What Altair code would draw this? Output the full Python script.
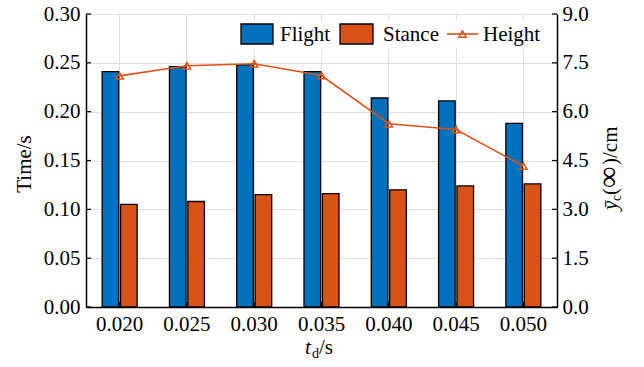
import altair as alt
import pandas as pd

td = ["0.020", "0.025", "0.030", "0.035", "0.040", "0.045", "0.050"]
flight = [0.241, 0.246, 0.248, 0.241, 0.214, 0.211, 0.188]
stance = [0.105, 0.108, 0.115, 0.116, 0.120, 0.124, 0.126]
height = [7.10, 7.41, 7.47, 7.11, 5.63, 5.45, 4.33]
series = ["Flight", "Stance"]
left_ticks = [0.0, 0.05, 0.10, 0.15, 0.20, 0.25, 0.30]
right_ticks = [0.0, 1.5, 3.0, 4.5, 6.0, 7.5, 9.0]
legend_labels = ["Flight", "Stance", "Height"]

BLUE = "#0072BD"
ORANGE = "#D95319"
GRID = "#dedede"
FONT = "Liberation Serif"
W, H = 471, 293
FS = 21

bars_df = pd.DataFrame(
    {"td": td * 2,
     "series": [series[0]] * len(td) + [series[1]] * len(td),
     "value": flight + stance}
)
line_df = pd.DataFrame({"td": td, "height": height})
lt_df = pd.DataFrame({"v": left_ticks})
rt_df = pd.DataFrame({"v": right_ticks})
td_df = pd.DataFrame({"td": td})
one = pd.DataFrame({"a": [0]})

xscale = alt.Scale(domain=td, paddingInner=0.48, paddingOuter=0.24)
xaxis = alt.Axis(title=None, labelAngle=0, labelFont=FONT, labelFontSize=FS,
                 labelColor="black", labelPadding=6, ticks=False,
                 domainColor="black", domainWidth=1.5, grid=True,
                 gridColor=GRID, gridWidth=1)
yl_scale = alt.Scale(domain=[0, 0.3], nice=False)
yl_axis = alt.Axis(title=None, orient="left", values=left_ticks, format=".2f",
                   labelFont=FONT, labelFontSize=FS, labelColor="black",
                   labelPadding=6, ticks=False, domainColor="black",
                   domainWidth=1.5, grid=True, gridColor=GRID, gridWidth=1)
yr_scale = alt.Scale(domain=[0, 9], nice=False)
yr_axis = alt.Axis(title=None, orient="right", values=right_ticks, format=".1f",
                   labelFont=FONT, labelFontSize=FS, labelColor="black",
                   labelPadding=5, ticks=False, domainColor="black",
                   domainWidth=1.5, grid=False)

bars = alt.Chart(bars_df).mark_bar(stroke="black", strokeWidth=1.3).encode(
    x=alt.X("td:N", scale=xscale, axis=xaxis),
    xOffset=alt.XOffset("series:N", sort=series,
                        scale=alt.Scale(paddingInner=0.1)),
    y=alt.Y("value:Q", scale=yl_scale, axis=yl_axis),
    color=alt.Color("series:N", scale=alt.Scale(domain=series, range=[BLUE, ORANGE]),
                    legend=None),
)
lticks = alt.Chart(lt_df).mark_rule(color="black", strokeWidth=1.2).encode(
    y=alt.Y("v:Q", scale=yl_scale, axis=yl_axis),
    x=alt.value(0), x2=alt.value(5),
)
bticks = alt.Chart(td_df).mark_rule(color="black", strokeWidth=1.2).encode(
    x=alt.X("td:N", scale=xscale, axis=xaxis),
    y=alt.value(H - 5), y2=alt.value(H),
)
left_group = alt.layer(bars, lticks, bticks)

line = alt.Chart(line_df).mark_line(color=ORANGE, strokeWidth=1.6).encode(
    x=alt.X("td:N", scale=xscale, axis=xaxis),
    y=alt.Y("height:Q", scale=yr_scale, axis=yr_axis),
)
pts = alt.Chart(line_df).mark_point(shape="triangle-up", filled=False, color=ORANGE,
                                    size=55, strokeWidth=1.5, opacity=1).encode(
    x=alt.X("td:N", scale=xscale, axis=xaxis),
    y=alt.Y("height:Q", scale=yr_scale, axis=yr_axis),
)
rticks = alt.Chart(rt_df).mark_rule(color="black", strokeWidth=1.2).encode(
    y=alt.Y("v:Q", scale=yr_scale, axis=yr_axis),
    x=alt.value(W - 5), x2=alt.value(W),
)
right_group = alt.layer(line, pts, rticks)

# legend (drawn manually)
leg = [
    alt.Chart(one).mark_rect(color="white").encode(
        x=alt.value(150), x2=alt.value(463), y=alt.value(6), y2=alt.value(35)),
    alt.Chart(one).mark_rect(color=BLUE, stroke="black", strokeWidth=1.3).encode(
        x=alt.value(155), x2=alt.value(187), y=alt.value(10), y2=alt.value(30)),
    alt.Chart(one).mark_rect(color=ORANGE, stroke="black", strokeWidth=1.3).encode(
        x=alt.value(254), x2=alt.value(287), y=alt.value(10), y2=alt.value(30)),
    alt.Chart(one).mark_rule(color=ORANGE, strokeWidth=1.6).encode(
        x=alt.value(361), x2=alt.value(392), y=alt.value(20)),
    alt.Chart(one).mark_point(shape="triangle-up", filled=False, color=ORANGE,
                              size=55, strokeWidth=1.5, opacity=1).encode(
        x=alt.value(376.5), y=alt.value(20)),
]
for lab, xp in zip(legend_labels, [194, 297, 397]):
    leg.append(alt.Chart(one).mark_text(text=lab, font=FONT, fontSize=FS, align="left",
                                        baseline="middle", color="black").encode(
        x=alt.value(xp), y=alt.value(21)))


def txt(s, x, y, size=FS, angle=0, italic=False, align="left", baseline="alphabetic"):
    kw = dict(text=s, font=FONT, fontSize=size, align=align, baseline=baseline,
              color="black")
    if angle:
        kw["angle"] = angle
    if italic:
        kw["fontStyle"] = "italic"
    return alt.Chart(one).mark_text(**kw).encode(x=alt.value(x), y=alt.value(y))


# axis titles (manual)
titles = [
    txt("Time/s", -61, 150, angle=270, align="center", baseline="middle"),
    txt("t", 219, 340, italic=True),
    txt("d", 226, 344, size=14),
    txt("/s", 233, 340),
    txt("ȳ", 531, 196, angle=270, italic=True),
    txt("c", 535, 187, size=14, angle=270),
    txt("(", 531, 181, angle=270),
    txt("∞", 532, 174, size=30, angle=270),
    txt(")/cm", 531, 151, angle=270),
]

chart = alt.layer(left_group, right_group, *leg, *titles).resolve_scale(
    y="independent"
).properties(
    width=W, height=H,
    autosize=alt.AutoSizeParams(type="none"),
    padding={"left": 86, "top": 14, "right": 87, "bottom": 60},
    background="white",
).configure_view(stroke=None).configure_axis(
    labelFont=FONT, labelFontSize=FS
).configure(font=FONT)

chart.save("out.html", embed_options={"renderer": "svg", "actions": False})
